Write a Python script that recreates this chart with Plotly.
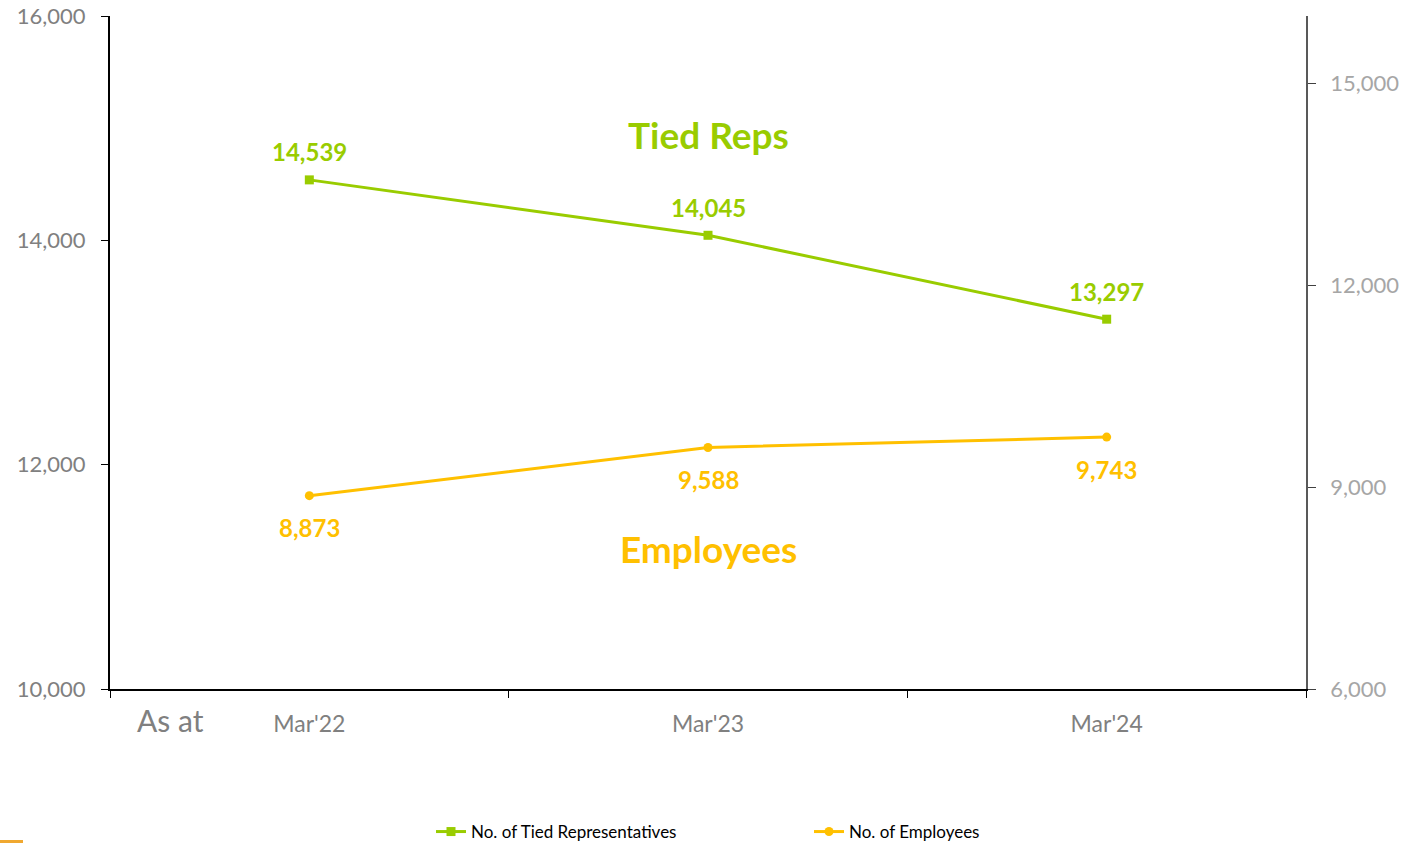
import plotly.graph_objects as go

categories = ["Mar'22", "Mar'23", "Mar'24"]
tied_reps = [14539, 14045, 13297]
employees = [8873, 9588, 9743]
left_ticks = [10000, 12000, 14000, 16000]
right_ticks = [6000, 9000, 12000, 15000]

GREEN = "#99CC00"
YELLOW = "#FFC000"
FONT = "Lato"

W, H = 1409, 843
L, T, R, B = 110, 16, 103, 154
PW, PH = W - L - R, H - T - B

fig = go.Figure()
fig.add_trace(go.Scatter(
    x=categories, y=tied_reps, name="No. of Tied Representatives",
    mode="lines+markers", line=dict(color=GREEN, width=3),
    marker=dict(symbol="square", size=9, color=GREEN), yaxis="y"))
fig.add_trace(go.Scatter(
    x=categories, y=employees, name="No. of Employees",
    mode="lines+markers", line=dict(color=YELLOW, width=3),
    marker=dict(symbol="circle", size=9, color=YELLOW), yaxis="y2"))

annotations = []
for c, v in zip(categories, tied_reps):
    annotations.append(dict(x=c, y=v, xref="x", yref="y", text=f"{v:,}",
                            showarrow=False, yshift=28,
                            font=dict(family=FONT, size=24, color=GREEN, weight="bold")))
for c, v in zip(categories, employees):
    annotations.append(dict(x=c, y=v, xref="x", yref="y2", text=f"{v:,}",
                            showarrow=False, yshift=-32,
                            font=dict(family=FONT, size=24, color=YELLOW, weight="bold")))
annotations.append(dict(x=1, y=14940, xref="x", yref="y", text="Tied Reps", showarrow=False,
                        font=dict(family=FONT, size=37, color=GREEN, weight="bold")))
annotations.append(dict(x=1, y=11250, xref="x", yref="y", text="Employees", showarrow=False,
                        font=dict(family=FONT, size=37, color=YELLOW, weight="bold")))
annotations.append(dict(x=(170 - L) / PW, y=(689 - 720) / PH,
                        xref="paper", yref="paper", text="As at", showarrow=False,
                        xanchor="center", yanchor="middle",
                        font=dict(family=FONT, size=30, color="#808080")))

fig.update_layout(
    width=W, height=H,
    margin=dict(l=L, r=R, t=T, b=B, autoexpand=False),
    paper_bgcolor="white", plot_bgcolor="white",
    font=dict(family=FONT, color="#808080"),
    showlegend=True,
    legend=dict(orientation="h", x=(431 - L) / PW, xanchor="left",
                y=(689 - 832) / PH, yanchor="middle",
                font=dict(family=FONT, size=17, color="#000000"),
                entrywidth=333, entrywidthmode="pixels"),
    xaxis=dict(type="category", range=[-0.5, 2.5], showgrid=False, automargin=False,
               showline=True, linecolor="#000000", linewidth=2,
               ticks="outside", ticklen=7, tickcolor="#000000", tickson="boundaries",
               tickfont=dict(family=FONT, size=23, color="#808080"), ticklabelstandoff=13),
    yaxis=dict(range=[10000, 16000], tickvals=left_ticks, tickformat=",", automargin=False,
               showgrid=False, zeroline=False, showline=True, linecolor="#000000", linewidth=2,
               ticks="outside", ticklen=7, tickcolor="#000000", ticklabelstandoff=11,
               ticklabeloverflow="allow",
               tickfont=dict(family=FONT, size=22, color="#808080")),
    yaxis2=dict(range=[6000, 16000], tickvals=right_ticks, tickformat=",", automargin=False,
                overlaying="y", side="right", showgrid=False, zeroline=False,
                showline=True, linecolor="#595959", linewidth=1.5,
                ticks="outside", ticklen=8, tickcolor="#404040", ticklabeloverflow="allow",
                tickfont=dict(family=FONT, size=22, color="#A6A6A6"), ticklabelstandoff=10),
    yaxis3=dict(range=[6000, 16000], tickvals=right_ticks, automargin=False,
                overlaying="y", side="right", showgrid=False, zeroline=False,
                showline=False, showticklabels=False,
                ticks="inside", ticklen=7, tickcolor="#404040"),
    annotations=annotations,
    shapes=[dict(type="line", xref="paper", yref="paper",
                 x0=-L / PW, x1=(23 - L) / PW,
                 y0=(689 - 841.5) / PH, y1=(689 - 841.5) / PH,
                 line=dict(color="#F0A830", width=3))],
)

fig.write_html("out.html", config={"displayModeBar": False},
               post_script="document.body.style.margin='0';")
